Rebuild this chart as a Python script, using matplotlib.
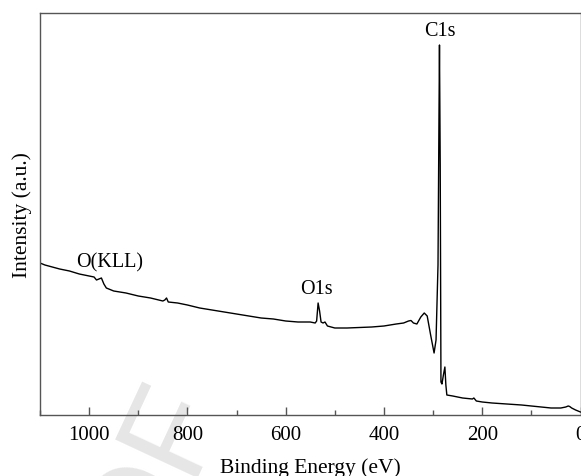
import matplotlib
matplotlib.use('Agg')
import matplotlib.pyplot as plt
from matplotlib.ticker import MultipleLocator

plt.rcParams['font.family'] = ['Liberation Serif', 'DejaVu Serif']

# XPS survey spectrum (intensity in arbitrary units)
binding_energy = [1100, 1090, 1075, 1060, 1040, 1020, 1000, 990, 985, 980, 975, 970, 965,
                  950, 925, 900, 875, 850, 846, 842.5, 839, 820, 800, 775, 750, 725, 700,
                  675, 650, 625, 600, 575, 550, 540, 537, 534, 531, 528, 524, 520, 515,
                  500, 475, 450, 425, 400, 375, 360, 350, 345, 340, 333, 325, 318, 312,
                  305, 298, 294, 290, 288, 287, 285.5, 284, 282, 279, 276, 274, 272,
                  260, 240, 220, 217, 212, 200, 180, 150, 120, 100, 80, 60, 40, 30, 25,
                  22, 18, 10, 5, 0]
intensity = [152, 150, 148, 146, 144, 141, 139, 138, 135, 136, 137, 131, 127,
             124, 122, 119, 117, 114, 115, 117, 113, 112, 110, 107, 105, 103, 101,
             99, 97, 96, 94, 93, 93, 92, 94, 112, 104, 93, 92, 93, 89,
             87, 87, 87.5, 88, 89, 91, 92, 94, 94.5, 92, 91, 98, 102, 99,
             80, 62, 75, 150, 300, 370, 250, 33, 31, 40, 48, 30, 20,
             19, 17, 16, 17, 14, 13, 12, 11, 10, 9, 8, 7, 7, 8, 9,
             8.5, 7, 5, 4, 3]

peak_names = ['C1s', 'O1s', 'O(KLL)']
peak_label_x = [286, 537, 958]
peak_label_y = [384, 126, 153]

fig = plt.figure(figsize=(5.81, 4.77), dpi=100)
ax = fig.add_axes([40 / 581, 61 / 477, 540.5 / 581, 402 / 477])
ax.set_zorder(1)

# faint proof watermark behind the plot
fig.text(148 / 581, 1 - 573 / 477, 'OF', fontsize=94, color='#e6e6e6', rotation=65,
         rotation_mode='anchor', ha='left', va='baseline',
         family='Liberation Sans', zorder=0)
ax.set_facecolor('none')

ax.plot(binding_energy, intensity, color='black', lw=1.0)

for name, x, y in zip(peak_names, peak_label_x, peak_label_y):
    ax.text(x, y, name, fontsize=14.5, ha='center', va='center')

ax.set_xlim(1100, 0)
ax.set_ylim(0, 402)
ax.xaxis.set_major_locator(MultipleLocator(200))
ax.xaxis.set_minor_locator(MultipleLocator(100))
ax.tick_params(axis='x', which='major', direction='in', length=6, width=1,
               labelsize=15, pad=7, color='#555555', top=False)
ax.tick_params(axis='x', which='minor', direction='in', length=3.5, width=1,
               color='#555555', top=False)
ax.set_yticks([])
for sp in ax.spines.values():
    sp.set_color('#555555')
    sp.set_linewidth(1.0)

ax.set_xlabel('Binding Energy (eV)', fontsize=15.5, labelpad=10)
ax.set_ylabel('Intensity (a.u.)', fontsize=15.5, labelpad=6)

fig.savefig('out.png', dpi=100)
